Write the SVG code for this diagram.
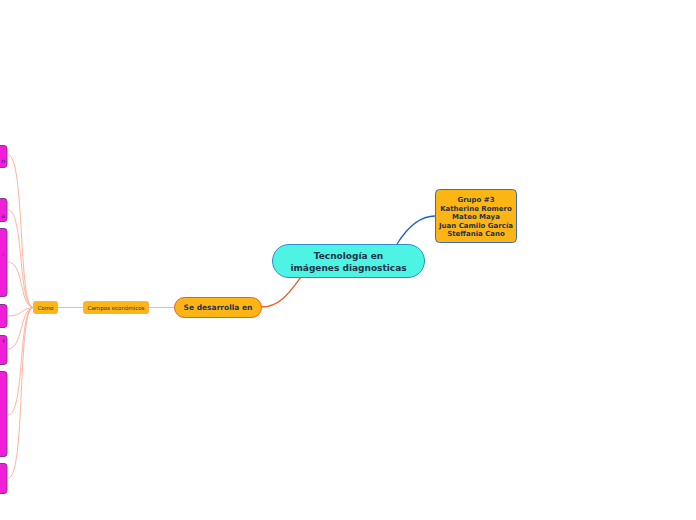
<svg xmlns="http://www.w3.org/2000/svg" width="696" height="520" viewBox="0 0 696 520">
<style>
.t{font-family:"DejaVu Sans",Verdana,sans-serif;fill:#1d3349;text-anchor:middle}
.b{font-weight:bold}
.pk{fill:#f21fd9;stroke:#7d3a8c;stroke-width:1}
.ft{font-family:"DejaVu Sans",sans-serif;font-size:6px;fill:#3a1a3a;text-anchor:end}
.lc{fill:none;stroke:#f9ab93;stroke-width:0.9}
</style>
<rect width="696" height="520" fill="#ffffff"/>
<g id="connectors">
<path d="M397,244 C407,228 420,216 435,216" fill="none" stroke="#1e63c4" stroke-width="1.3"/>
<path d="M301,277 C290,292 280,307 261,307" fill="none" stroke="#f05a24" stroke-width="1.3"/>
<path d="M148,307.5 L174,307.5" class="lc"/>
<path d="M57,307.5 L83,307.5" class="lc"/>
<path d="M33,307.5 C18,307 25,155 8,155" class="lc"/>
<path d="M33,307.5 C18,306 24,210 8,210" class="lc"/>
<path d="M33,307.5 C19,305 24,262 8,262" class="lc"/>
<path d="M33,307.5 C22,308 22,316 8,316" class="lc"/>
<path d="M33,307.5 C20,309 23,349 8,349" class="lc"/>
<path d="M33,307.5 C18,310 25,415 8,415" class="lc"/>
<path d="M33,307.5 C17,310 26,478 8,478" class="lc"/>
</g>
<g id="center">
<rect x="272.5" y="244.5" width="152" height="33" rx="16.5" fill="#4df4e3" stroke="#2c8fd0" stroke-width="1"/>
<text class="t b" x="348.5" y="259" font-size="9">Tecnología en</text>
<text class="t b" x="348.5" y="270.5" font-size="9">imágenes diagnosticas</text>
</g>
<g id="grupo">
<rect x="435.5" y="189.5" width="81" height="53" rx="4" fill="#fdb515" stroke="#3b6db3" stroke-width="1"/>
<text class="t b" x="476" y="202" font-size="7">Grupo #3</text>
<text class="t b" x="476" y="210.5" font-size="7">Katherine Romero</text>
<text class="t b" x="476" y="219" font-size="7">Mateo Maya</text>
<text class="t b" x="476" y="227.5" font-size="7">Juan Camilo García</text>
<text class="t b" x="476" y="236" font-size="7">Steffania Cano</text>
</g>
<g id="desarrolla">
<rect x="174.5" y="297.5" width="87" height="20" rx="10" fill="#fdb515" stroke="#f05a24" stroke-width="1"/>
<text class="t b" x="218" y="310" font-size="7.5">Se desarrolla en</text>
</g>
<g id="campos">
<rect x="83.5" y="301.5" width="65" height="12" rx="2" fill="#fdb515" stroke="#f9a060" stroke-width="0.8"/>
<text class="t" x="116" y="309.5" font-size="5.5" fill="#3a2a10">Campos económicos</text>
</g>
<g id="como">
<rect x="33.5" y="301.5" width="24" height="12" rx="2" fill="#fdb515" stroke="#f9a060" stroke-width="0.8"/>
<text class="t" x="45.5" y="309.5" font-size="5.5">Como</text>
</g>
<g id="p1"><rect class="pk" x="-10" y="145.5" width="17" height="22" rx="3"/><text class="ft" x="5" y="163">n</text></g>
<g id="p2"><rect class="pk" x="-10" y="198.5" width="17" height="23" rx="3"/><text class="ft" x="5" y="218">a</text></g>
<g id="p3"><rect class="pk" x="-10" y="228.5" width="17" height="68" rx="3"/><text class="ft" x="4" y="256">:</text></g>
<g id="p4"><rect class="pk" x="-10" y="304.5" width="17" height="23" rx="3"/></g>
<g id="p5"><rect class="pk" x="-10" y="335.5" width="17" height="29" rx="3"/><text class="ft" x="5" y="343">r</text></g>
<g id="p6"><rect class="pk" x="-10" y="371.5" width="17" height="85" rx="3"/></g>
<g id="p7"><rect class="pk" x="-10" y="463.5" width="17" height="30" rx="3"/></g>
</svg>
